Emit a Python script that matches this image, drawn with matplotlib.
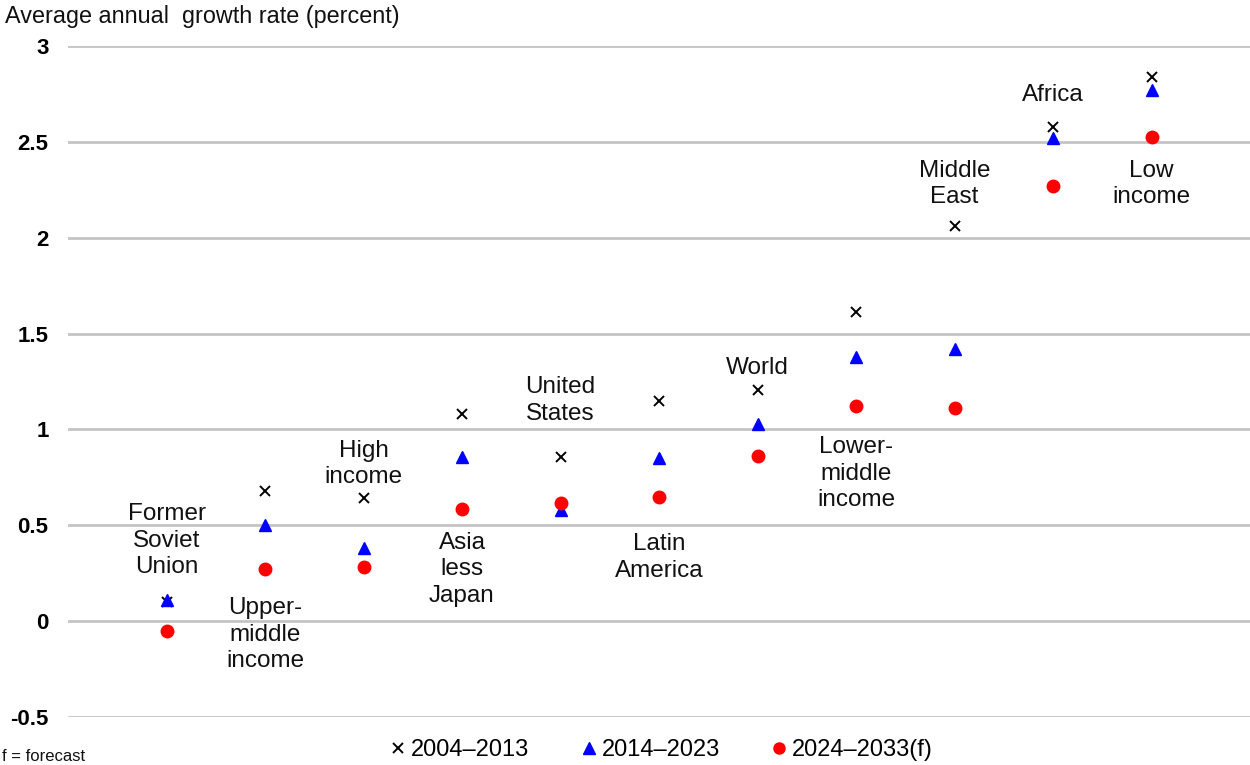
import matplotlib
matplotlib.use("Agg")
import matplotlib.pyplot as plt
from matplotlib.lines import Line2D

plt.rcParams['font.family'] = ['Liberation Sans', 'DejaVu Sans']

categories = ["Former\nSoviet\nUnion", "Upper-\nmiddle\nincome", "High\nincome",
              "Asia\nless\nJapan", "United\nStates", "Latin\nAmerica", "World",
              "Lower-\nmiddle\nincome", "Middle\nEast", "Africa", "Low\nincome"]
s2004_2013 = [0.10, 0.68, 0.64, 1.08, 0.855, 1.15, 1.205, 1.61, 2.06, 2.58, 2.84]
s2014_2023 = [0.11, 0.50, 0.38, 0.855, 0.58, 0.85, 1.03, 1.38, 1.42, 2.52, 2.77]
s2024_2033 = [-0.05, 0.27, 0.28, 0.585, 0.615, 0.65, 0.86, 1.12, 1.11, 2.27, 2.525]
series_names = ["2004\u20132013", "2014\u20132023", "2024\u20132033(f)"]
yticks = [-0.5, 0, 0.5, 1, 1.5, 2, 2.5, 3]
ytick_labels = ["-0.5", "0", "0.5", "1", "1.5", "2", "2.5", "3"]

# label placement (layout, not data)
label_y = [0.42, -0.07, 0.82, 0.27, 1.15, 0.33, 1.32, 0.77, 2.28, 2.745, 2.28]

fig = plt.figure(figsize=(12.5, 7.65), dpi=100)
ax = fig.add_axes([68/1250, 1 - 717/765, 1 - 68/1250, (717 - 46)/765])

xs = list(range(1, len(categories) + 1))
ax.plot(xs, s2004_2013, linestyle='none', marker='x', color='black', markersize=7,
        markeredgewidth=1.4, clip_on=False, zorder=3)
ax.plot(xs, s2014_2023, linestyle='none', marker='^', color='#0000ff', markersize=9,
        clip_on=False, zorder=4)
ax.plot(xs, s2024_2033, linestyle='none', marker='o', color='#ff0000', markersize=9,
        clip_on=False, zorder=5)

for x, lab, ly in zip(xs, categories, label_y):
    ax.text(x, ly, lab, ha='center', va='center', fontsize=17.5, color='#111111',
            linespacing=1.28, zorder=6)

ax.set_xlim(0, 12)
ax.set_ylim(-0.5, 3)
ax.set_yticks(yticks)
ax.set_yticklabels(ytick_labels, fontsize=16, fontweight='bold')
ax.set_xticks([])
ax.yaxis.grid(True, color='#c4c4c4', linewidth=2)
ax.set_axisbelow(True)
for sp in ax.spines.values():
    sp.set_visible(False)
ax.tick_params(axis='y', length=0, pad=14)

fig.text(5/1250, 1 - 17/765, "Average annual  growth rate (percent)", fontsize=16.8,
         ha='left', va='center', color='#111111')

handles = [
    Line2D([], [], linestyle='none', marker='x', color='black', markersize=7, markeredgewidth=1.4),
    Line2D([], [], linestyle='none', marker='^', color='#0000ff', markersize=8),
    Line2D([], [], linestyle='none', marker='o', color='#ff0000', markersize=8),
]
fig.legend(handles, series_names, loc='center', bbox_to_anchor=(662/1250, 1 - 750/765),
           ncol=3, frameon=False, fontsize=17, handlelength=0.6, handletextpad=0.25,
           columnspacing=2.2)

fig.text(2/1250, 1/765, "f = forecast", fontsize=12, ha='left', va='bottom', color='#111111')

fig.savefig("out.png", dpi=100)
